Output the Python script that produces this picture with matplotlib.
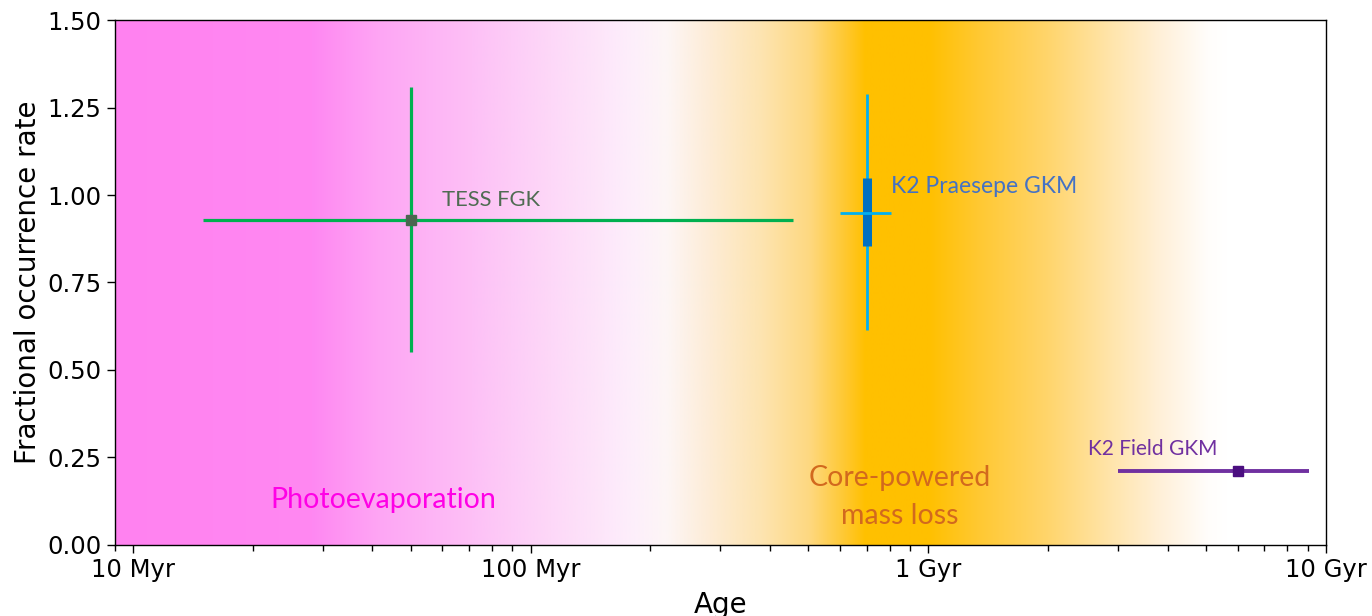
import numpy as np
import matplotlib
matplotlib.use("Agg")
import matplotlib.pyplot as plt
from matplotlib.colors import to_rgb

# ---------------- data ----------------
tess_age = [50.0]          # Myr
tess_age_lo = [15.0]
tess_age_hi = [457.0]
tess_rate = [0.93]
tess_rate_lo = [0.55]
tess_rate_hi = [1.31]

praesepe_age = [700.0]
praesepe_age_lo = [600.0]
praesepe_age_hi = [805.0]
praesepe_rate = [0.95]
praesepe_rate_lo1 = [0.855]   # 1-sigma (thick)
praesepe_rate_hi1 = [1.05]
praesepe_rate_lo2 = [0.615]   # outer (thin)
praesepe_rate_hi2 = [1.29]

field_age = [6000.0]
field_age_lo = [3000.0]
field_age_hi = [9100.0]
field_rate = [0.21]

xticks = [10, 100, 1000, 10000]
xticklabels = ["10 Myr", "100 Myr", "1 Gyr", "10 Gyr"]
yticks = [0.0, 0.25, 0.5, 0.75, 1.0, 1.25, 1.5]

# ---------------- figure ----------------
fig = plt.figure(figsize=(13.72, 6.16), dpi=100)
ax = fig.add_axes([0.0836, 0.1153, 0.9663 - 0.0836, 0.9675 - 0.1153])
xmin, xmax = 9.0, 10000.0
ax.set_xscale("log")
ax.set_xlim(xmin, xmax)
ax.set_ylim(0, 1.5)

# background gradient (log10 age stops -> colour)
stops = [
    (0.95, "#ff82f0"),
    (1.45, "#ff88f2"),
    (1.62, "#fea6f4"),
    (1.85, "#fdc0f6"),
    (2.05, "#fdd8f8"),
    (2.25, "#fdeefb"),
    (2.34, "#fdf6f6"),
    (2.45, "#fdecd6"),
    (2.58, "#fde4b0"),
    (2.70, "#fed880"),
    (2.79, "#ffc830"),
    (2.84, "#ffc000"),
    (3.00, "#ffc000"),
    (3.12, "#ffc830"),
    (3.30, "#ffd56c"),
    (3.45, "#ffe4a8"),
    (3.58, "#fff0d8"),
    (3.70, "#fffdfb"),
    (3.75, "#ffffff"),
    (4.05, "#ffffff"),
]
sl = np.array([s[0] for s in stops])
sc = np.array([to_rgb(s[1]) for s in stops])
frac = np.linspace(0, 1, 1500)
lx = np.log10(xmin) + frac * (np.log10(xmax) - np.log10(xmin))
img = np.stack([np.interp(lx, sl, sc[:, k]) for k in range(3)], axis=-1)[None, :, :]
ax.imshow(img, extent=[0, 1, 0, 1], transform=ax.transAxes, aspect="auto",
          interpolation="bilinear", zorder=0)

# TESS FGK
ax.errorbar(tess_age, tess_rate,
            xerr=[[tess_age[0] - tess_age_lo[0]], [tess_age_hi[0] - tess_age[0]]],
            yerr=[[tess_rate[0] - tess_rate_lo[0]], [tess_rate_hi[0] - tess_rate[0]]],
            fmt="none", ecolor="#00b050", elinewidth=2.3, capsize=0, zorder=3)
ax.plot(tess_age, tess_rate, "s", color="#4a6650", markersize=7, zorder=4)

# K2 Praesepe
ax.errorbar(praesepe_age, praesepe_rate,
            yerr=[[praesepe_rate[0] - praesepe_rate_lo2[0]], [praesepe_rate_hi2[0] - praesepe_rate[0]]],
            fmt="none", ecolor="#00b0f0", elinewidth=2.0, capsize=0, zorder=3)
ax.errorbar(praesepe_age, praesepe_rate,
            yerr=[[praesepe_rate[0] - praesepe_rate_lo1[0]], [praesepe_rate_hi1[0] - praesepe_rate[0]]],
            fmt="none", ecolor="#0070c0", elinewidth=6.5, capsize=0, zorder=4)
ax.errorbar(praesepe_age, praesepe_rate,
            xerr=[[praesepe_age[0] - praesepe_age_lo[0]], [praesepe_age_hi[0] - praesepe_age[0]]],
            fmt="none", ecolor="#00b0f0", elinewidth=2.0, capsize=0, zorder=5)

# K2 Field
ax.errorbar(field_age, field_rate,
            xerr=[[field_age[0] - field_age_lo[0]], [field_age_hi[0] - field_age[0]]],
            fmt="none", ecolor="#7030a0", elinewidth=2.8, capsize=0, zorder=3)
ax.plot(field_age, field_rate, "s", color="#4b0f80", markersize=7, zorder=4)

# annotations
afont = "Lato"
ax.text(60, 0.985, "TESS FGK", color="#4f6b52", fontsize=15.8, family=afont,
        ha="left", va="center", zorder=6)
ax.text(808, 1.023, "K2 Praesepe GKM", color="#4472c4", fontsize=16.5, family=afont,
        ha="left", va="center", zorder=6)
ax.text(2520, 0.274, "K2 Field GKM", color="#7030a0", fontsize=15, family=afont,
        ha="left", va="center", zorder=6)
ax.text(42.6, 0.129, "Photoevaporation", color="#ff00e6", fontsize=20.5, family=afont,
        ha="center", va="center", zorder=6)
ax.text(850, 0.137, "Core-powered\nmass loss", color="#d2691e", fontsize=20.5, family=afont,
        ha="center", va="center", linespacing=1.55, zorder=6)

# axes styling
ax.set_xticks(xticks)
ax.set_xticklabels(xticklabels)
ax.set_yticks(yticks)
ax.set_yticklabels([f"{v:.2f}" for v in yticks])
ax.tick_params(axis="both", which="major", labelsize=17.5, length=6, width=1)
ax.tick_params(axis="x", which="minor", length=4, width=1)
ax.set_xlabel("Age", fontsize=20, labelpad=6)
ax.set_ylabel("Fractional occurrence rate", fontsize=20)
for s in ax.spines.values():
    s.set_linewidth(1.0)
    s.set_zorder(10)

fig.savefig("out.png", dpi=100)
